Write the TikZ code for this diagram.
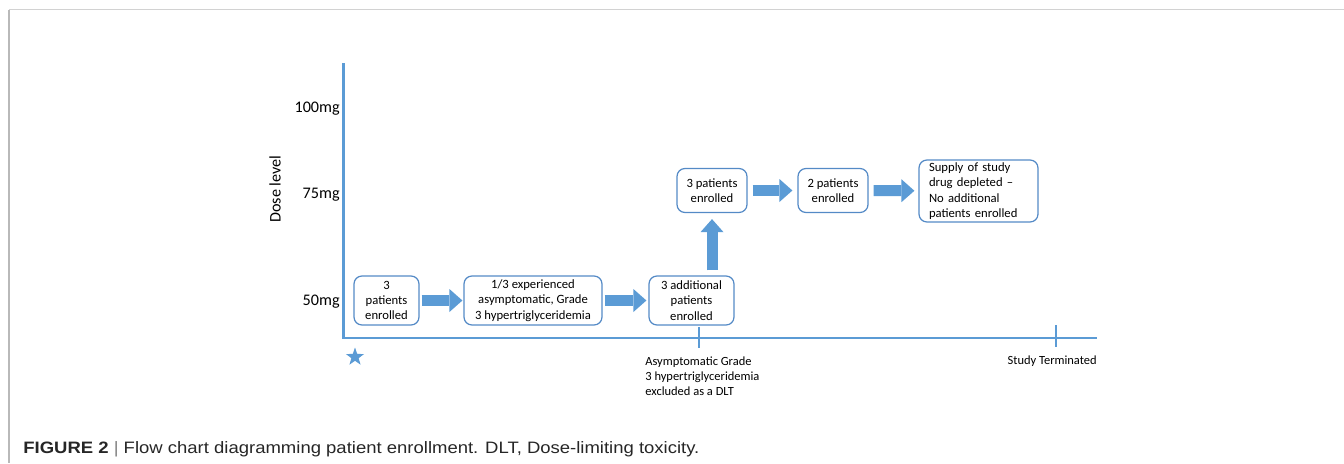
\documentclass[tikz,border=0pt]{standalone}
\usepackage{fontspec}
\setmainfont{Carlito}
\newfontfamily\capfont[FakeStretch=1.12]{Liberation Sans}
\usetikzlibrary{arrows.meta,shapes.geometric}
\definecolor{axblue}{RGB}{91,155,213}
\definecolor{bxblue}{RGB}{84,138,198}
\begin{document}
\begin{tikzpicture}[x=0.02cm,y=-0.02cm,
  stbox/.style={draw=bxblue, line width=0.7pt, rounded corners=4.5pt, align=center, inner sep=1pt, font=\fontsize{7.2}{8.7}\selectfont},
  blockarr/.style={draw=axblue, line width=0.22cm, -{Triangle[width=0.46cm,length=0.26cm,line width=0pt]}},
  axline/.style={draw=axblue, line width=1.6pt},
  doselbl/.style={anchor=east, inner sep=0pt, font=\fontsize{9.2}{11}\selectfont},
  tlbl/.style={inner sep=0pt, align=left, font=\fontsize{7.1}{8.7}\selectfont}]
\useasboundingbox (0,0) rectangle (1344,463);
% frame
\draw[gray!35, line width=1pt] (9,9.5) -- (1344,9.5);
\draw[gray!55, line width=1pt] (9,9.5) -- (9,463);
% axes
\coordinate (ytop) at (343.5,63);
\coordinate (orig) at (343.5,338);
\coordinate (xend) at (1097,338);
\draw[axline] (ytop) -- (orig) -- (xend);
\coordinate (tk1a) at (699,327);
\coordinate (tk1b) at (699,348);
\coordinate (tk2a) at (1056,325);
\coordinate (tk2b) at (1056,347);
\draw[axline] (tk1a) -- (tk1b);
\draw[axline] (tk2a) -- (tk2b);
\node[doselbl] (d100) at (340,109){100mg};
\node[doselbl] (d75) at (340,195){75mg};
\node[doselbl] (d50) at (340,302){50mg};
\node[rotate=90, inner sep=0pt, font=\fontsize{9.2}{11}\selectfont] (dlab) at (275,189){Dose level};
\node[star, star points=5, star point ratio=2.5, fill=axblue, inner sep=0pt, minimum size=0.38cm] (strt) at (355,357){};
% steps
\node[stbox, minimum width=1.3cm, minimum height=0.98cm] (st1) at (386.5,300.5){3\\patients\\enrolled};
\node[stbox, minimum width=2.76cm, minimum height=0.98cm] (st2) at (533,300.5){1/3 experienced\\asymptomatic, Grade\\3 hypertriglyceridemia};
\node[stbox, minimum width=1.7cm, minimum height=0.98cm] (st3) at (691.5,300.5){3 additional\\patients\\enrolled};
\node[stbox, minimum width=1.4cm, minimum height=0.88cm] (st4) at (712,190.5){3 patients\\enrolled};
\node[stbox, minimum width=1.4cm, minimum height=0.88cm] (st5) at (833,190.5){2 patients\\enrolled};
\node[stbox, align=left, inner xsep=0.2cm, text width=1.98cm, minimum height=1.24cm] (st6) at (978.5,191){Supply of study\\drug depleted --\\No additional\\patients enrolled};
\draw[blockarr, shorten <=0.04cm, shorten >=0.02cm] (st1) -- (st2);
\draw[blockarr, shorten <=0.04cm, shorten >=0.04cm] (st2) -- (st3);
\draw[blockarr, shorten <=0.1cm, shorten >=0.12cm] (st4.south |- st3.north) -- (st4.south);
\draw[blockarr, shorten <=0.1cm, shorten >=0.1cm] (st4) -- (st5);
\draw[blockarr, shorten <=0.1cm, shorten >=0.08cm] (st5) -- (st6);
% timeline notes
\node[tlbl, anchor=north west] (nt1) at (645,356){Asymptomatic Grade\\3 hypertriglyceridemia\\excluded as a DLT};
\node[tlbl, anchor=north east] (nt2) at (1097,355){Study Terminated};
% caption
\node[anchor=base west, inner sep=0pt, text=black!85, font=\capfont\fontsize{9.4}{11}\selectfont] (capt) at (23,453){\textbf{FIGURE 2} \textcolor{black!50}{|} Flow chart diagramming patient enrollment. DLT, Dose-limiting toxicity.};
\end{tikzpicture}
\end{document}
